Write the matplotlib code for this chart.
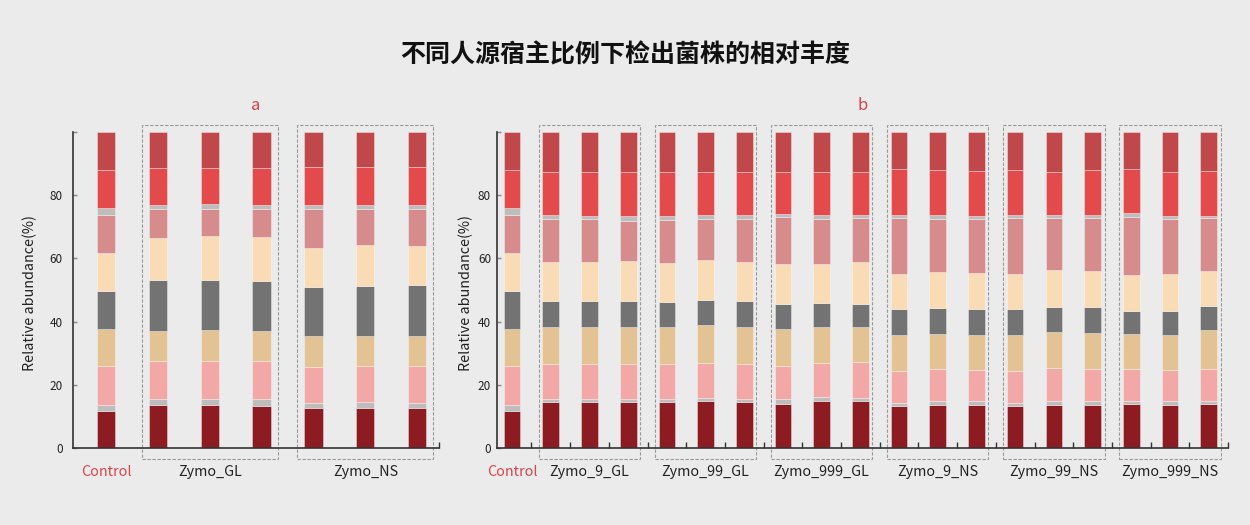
import matplotlib
matplotlib.use("Agg")
import matplotlib.pyplot as plt
from matplotlib.patches import Rectangle
import matplotlib.transforms as mtransforms
import numpy as np

plt.rcParams['font.family'] = ['Noto Sans CJK SC', 'DejaVu Sans']

# ---------------- data ----------------
title = "不同人源宿主比例下检出菌株的相对丰度"

# panel a
a_samples = ["Control", "GL_1", "GL_2", "GL_3", "NS_1", "NS_2", "NS_3"]
a_groups = ["Zymo_GL", "Zymo_NS"]
a_strain01 = [11.8, 13.6, 13.6, 13.4, 12.8, 12.6, 12.8]
a_strain02 = [1.9, 1.8, 1.8, 2.0, 1.5, 1.9, 1.4]
a_strain03 = [12.3, 12.0, 12.0, 12.0, 11.2, 11.3, 11.6]
a_strain04 = [11.7, 9.7, 9.9, 9.7, 9.9, 9.7, 9.7]
a_strain05 = [12.0, 16.0, 15.9, 15.8, 15.5, 15.8, 16.1]
a_strain06 = [12.0, 13.2, 13.8, 13.7, 12.4, 12.8, 12.3]
a_strain07 = [12.0, 9.3, 8.6, 9.0, 12.3, 11.5, 11.7]
a_strain08 = [2.2, 1.2, 1.6, 1.2, 1.2, 1.2, 1.2]
a_strain09 = [12.0, 11.7, 11.3, 11.7, 12.0, 12.0, 12.0]
a_strain10 = [12.1, 11.5, 11.5, 11.5, 11.2, 11.2, 11.2]

# panel b
b_groups = ["Zymo_9_GL", "Zymo_99_GL", "Zymo_999_GL",
            "Zymo_9_NS", "Zymo_99_NS", "Zymo_999_NS"]
b_strain01 = [11.8, 14.5, 14.5, 14.5, 14.5, 14.8, 14.5, 14.0, 14.8, 14.8, 13.2, 13.7, 13.7, 13.2, 13.7, 13.7, 13.9, 13.7, 14.0]
b_strain02 = [1.9, 1.0, 1.0, 1.0, 1.0, 1.0, 1.0, 1.5, 1.4, 1.0, 1.1, 1.1, 1.1, 1.1, 1.1, 1.1, 0.9, 1.1, 0.8]
b_strain03 = [12.3, 11.2, 11.2, 11.2, 11.2, 11.2, 11.2, 10.3, 10.8, 11.5, 10.2, 10.3, 10.0, 10.2, 10.5, 10.3, 10.3, 10.0, 10.3]
b_strain04 = [11.7, 11.5, 11.5, 11.7, 11.5, 11.8, 11.5, 11.9, 11.4, 11.1, 11.4, 11.1, 11.1, 11.1, 11.4, 11.3, 11.1, 11.1, 12.2]
b_strain05 = [12.0, 8.3, 8.3, 8.1, 8.1, 8.0, 8.3, 8.0, 7.5, 7.3, 8.1, 8.0, 8.1, 8.4, 7.9, 8.2, 7.3, 7.6, 7.6]
b_strain06 = [12.0, 12.5, 12.5, 12.8, 12.2, 12.8, 12.5, 12.5, 12.3, 13.0, 11.1, 11.4, 11.4, 10.9, 11.6, 11.4, 11.1, 11.4, 11.1]
b_strain07 = [12.0, 13.3, 13.3, 12.5, 13.5, 12.7, 13.3, 14.8, 14.1, 14.0, 17.6, 16.7, 16.9, 17.8, 16.5, 16.7, 18.4, 17.4, 16.7]
b_strain08 = [2.2, 1.4, 1.1, 1.6, 1.4, 1.4, 1.4, 1.0, 1.4, 1.0, 1.0, 1.3, 1.1, 1.0, 1.0, 1.0, 1.4, 1.1, 0.7]
b_strain09 = [12.0, 13.7, 13.8, 13.8, 13.8, 13.5, 13.5, 13.4, 13.7, 13.7, 14.7, 14.4, 14.3, 14.3, 13.7, 14.4, 14.0, 14.0, 14.3]
b_strain10 = [12.1, 12.6, 12.8, 12.8, 12.8, 12.8, 12.8, 12.6, 12.6, 12.6, 11.6, 12.0, 12.3, 12.0, 12.6, 11.9, 11.6, 12.6, 12.3]

strain_colors = ["#8c1b22", "#bdbdbd", "#f3a8a8", "#e3c394", "#737373",
                 "#f9dcb5", "#d68c8c", "#bdbdbd", "#e34a4b", "#c0484a"]

a_series = [a_strain01, a_strain02, a_strain03, a_strain04, a_strain05,
            a_strain06, a_strain07, a_strain08, a_strain09, a_strain10]
b_series = [b_strain01, b_strain02, b_strain03, b_strain04, b_strain05,
            b_strain06, b_strain07, b_strain08, b_strain09, b_strain10]

BG = "#ebebeb"
RED = "#d9434a"
fig = plt.figure(figsize=(12.5, 5.25), dpi=100, facecolor=BG)

def draw_panel(ax, series, width, letter, groups, xlim, tickpad, label_x):
    ax.set_facecolor(BG)
    n = len(series[0])
    x = np.arange(n)
    bottom = np.zeros(n)
    for vals, col in zip(series, strain_colors):
        vals = np.asarray(vals)
        ax.bar(x, vals, width=width, bottom=bottom, color=col,
               edgecolor=(1, 1, 1, 0.35), linewidth=0.7, zorder=2)
        bottom += vals
    ax.set_xlim(*xlim)
    ax.set_ylim(0, 100)
    for s in ["top", "right"]:
        ax.spines[s].set_visible(False)
    for s in ["left", "bottom"]:
        ax.spines[s].set_color("#333333")
        ax.spines[s].set_linewidth(1.2)
    ax.set_yticks([0, 20, 40, 60, 80, 100])
    ax.set_yticklabels(["0", "20", "40", "60", "80", ""])
    ax.tick_params(axis="y", direction="in", length=3, width=1,
                   color="#888888", labelsize=8.5, pad=tickpad, labelcolor="#222222")
    ax.tick_params(axis="x", direction="in", length=4, width=1,
                   color="#333333", labelbottom=False)
    ax.set_ylabel("Relative abundance(%)", fontsize=10.3, color="#222222")
    ax.yaxis.set_label_coords(label_x, 0.49)
    ax.set_title(letter, color=RED, fontsize=12, pad=16)

    trans = mtransforms.blended_transform_factory(ax.transData, fig.transFigure)
    ax.text(0, 0.101, "Control", transform=trans, ha="center", va="center",
            fontsize=10.3, color=RED)
    for gi, g in enumerate(groups):
        c = 2 + 3 * gi
        ax.text(c, 0.101, g, transform=trans, ha="center", va="center",
                fontsize=10.3, color="#222222")
        rect = Rectangle((c - 1.31, -3.5), 2.62, 105.7, fill=False,
                         edgecolor="#9a9a9a", linewidth=0.8,
                         linestyle=(0, (3, 1.5)), clip_on=False, zorder=1)
        ax.add_patch(rect)

ax_a = fig.add_axes([0.0584, 0.1467, 0.2928, 0.602])
draw_panel(ax_a, a_series, 0.35, "a", a_groups, (-0.635, 6.42), 7.2, -0.098)
ax_a.set_xticks([6.42])

ax_b = fig.add_axes([0.3976, 0.1467, 0.5848, 0.602])
draw_panel(ax_b, b_series, 0.43, "b", b_groups, (-0.39, 18.5), 4.3, -0.033)
ax_b.set_xticks(np.arange(0.5, 19, 1.0))

fig.text(0.5, 1 - 55 / 525, title, ha="center", va="center",
         fontsize=18, fontweight="bold", color="#111111")

fig.savefig("out.png", dpi=100, facecolor=BG)
